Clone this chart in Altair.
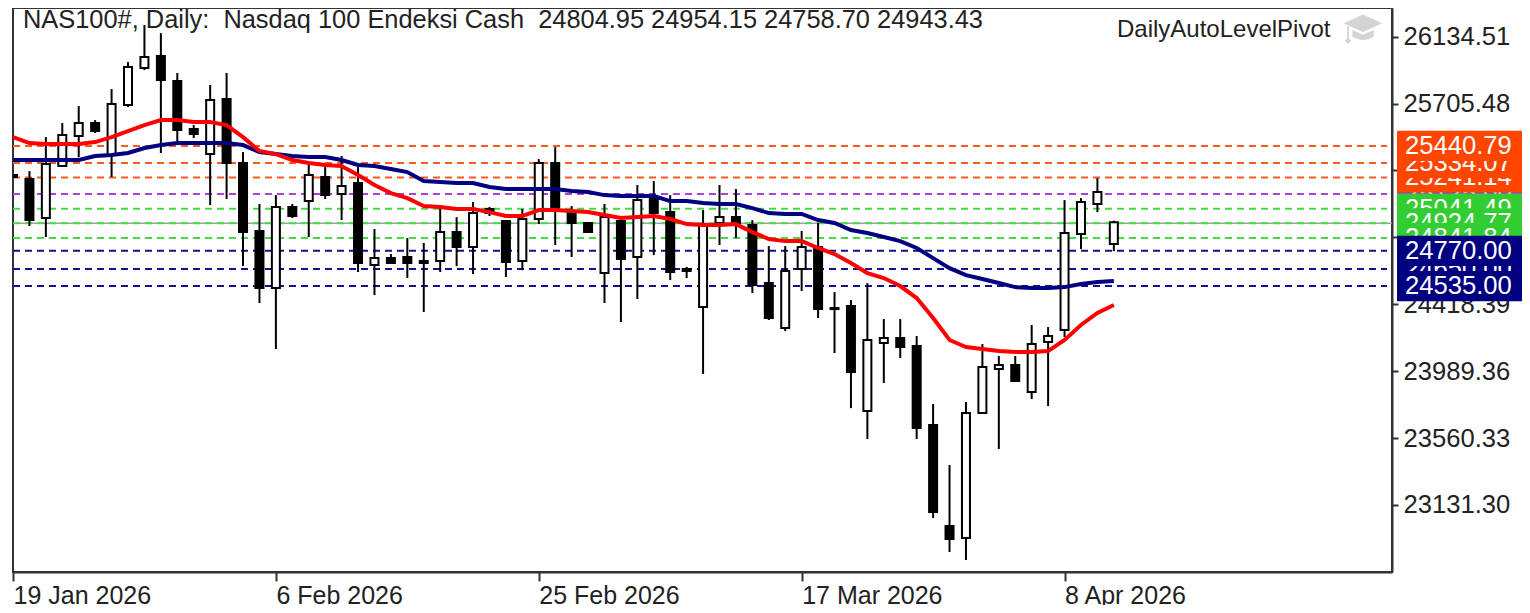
import altair as alt
import pandas as pd

highs = [25253,25272,25490,25580,25689,25599,25798,25971,26209,26157,25901,25567,25824,25901,25394,25061,25118,25061,25311,25311,25369,25298,24900,24740,24843,24811,25042,24977,25074,25042,24958,25029,25349,25426,25048,24939,25061,24971,25183,25208,25118,24657,25022,25183,25157,24958,24791,24791,24888,24939,24496,24445,24554,24323,24323,24214,23778,23387,23791,24163,24086,24086,24285,24272,25086,25099,25227,24954.15]
lows = [25234,24920,24849,25304,25362,25516,25234,25683,25920,25388,25452,25484,25054,25093,24663,24426,24131,24971,24849,25093,24958,24625,24477,24682,24586,24368,24625,24663,24612,24984,24593,24637,24932,24798,24721,24875,24426,24304,24452,24734,24573,24586,23971,24798,24843,24490,24317,24246,24503,24330,24105,23752,23554,23913,24073,23554,23047,22829,22778,23720,23490,23926,23810,23765,24208,24772,25009,24758.70]
opens = [25247,25221,24971,25304,25497,25580,25375,25696,25933,26010,25850,25542,25381,25734,25324,24888,24522,25042,25080,25234,25125,25195,24670,24714,24721,24695,24695,24881,24785,25029,24952,24695,24965,25324,25003,24939,24618,24952,24721,25093,25009,24644,24400,24939,24977,24926,24554,24266,24644,24785,24394,24407,23733,24169,24201,24150,23643,22996,22919,23720,24003,24028,23855,24176,24253,24868,25061,24804.95]
closes = [25234,24958,25317,25503,25580,25529,25702,25939,26003,25856,25535,25510,25728,25324,24881,24522,25042,24984,25247,25118,25176,24682,24714,24682,24682,24682,24881,24785,25003,25003,24689,24965,25324,25035,24939,24881,24977,24708,25086,25003,24625,24631,24926,24977,24939,24541,24330,24631,24785,24387,24387,23983,24189,24201,24144,23624,23086,22912,23720,24015,24028,23926,24163,24214,24875,25074,25138,24943.43]

ma_red = [25490,25452,25446,25446,25446,25458,25490,25529,25567,25599,25599,25587,25587,25567,25490,25401,25381,25343,25324,25311,25304,25247,25183,25131,25099,25048,25042,25029,25029,25009,24984,24984,25022,25022,25016,25009,24990,24971,24977,24984,24965,24932,24926,24926,24932,24881,24836,24823,24823,24779,24740,24682,24618,24586,24535,24458,24330,24189,24144,24131,24118,24112,24112,24118,24189,24285,24362,24413]
ma_blue = [25343,25343,25343,25343,25343,25369,25375,25388,25420,25439,25452,25452,25452,25452,25439,25394,25381,25369,25362,25362,25343,25311,25304,25285,25266,25208,25202,25195,25195,25170,25157,25157,25157,25157,25144,25138,25118,25112,25112,25112,25080,25080,25067,25061,25061,25035,25003,24997,24997,24958,24939,24894,24875,24849,24823,24779,24714,24650,24605,24580,24554,24528,24522,24522,24528,24548,24561,24567]

level_prices = [25433,25324,25231,25125,25031,24937,24843,24761,24644,24535]
level_labels = ["25440.79","25334.07","25241.14","25125.00","25041.49","24924.77","24841.84","24770.00","24650.00","24535.00"]
level_colors = ["#FF4500","#FF4500","#FF4500","#9932CC","#32CD32","#32CD32","#32CD32","#000080","#000080","#000080"]
line_colors = ["#FF5A1E","#FF5A1E","#FF5A1E","#A844DC","#44DC44","#44DC44","#44DC44","#101090","#101090","#101090"]
tag_order = [3,4,5,6,2,1,0,8,7,9]

current_price = 24937
y_ticks = [26134.51,25705.48,25276.45,24847.42,24418.39,23989.36,23560.33,23131.30]
x_ticks = [0,16,32,48,64]
x_labels = ["19 Jan 2026","6 Feb 2026","25 Feb 2026","17 Mar 2026","8 Apr 2026"]
heading = "NAS100#, Daily:\u00a0\u00a0Nasdaq 100 Endeksi Cash\u00a0\u00a024804.95 24954.15 24758.70 24943.43"
indicator = "DailyAutoLevelPivot"

FONT = "Liberation Sans"
idx = list(range(len(highs)))
df = pd.DataFrame(dict(i=idx, h=highs, l=lows, o=opens, c=closes, red=ma_red, blue=ma_blue))
df["top"] = df[["o","c"]].max(axis=1)
df["bot"] = df[["o","c"]].min(axis=1)
df["kind"] = ["bull" if c >= o else "bear" for o, c in zip(opens, closes)]
lv = pd.DataFrame(dict(p=level_prices, t=level_labels, col=line_colors))

xs = alt.Scale(domain=[0, 83.93], nice=False, zero=False, padding=0)
ys = alt.Scale(domain=[22701, 26318], nice=False, zero=False, padding=0)
label_js = "[" + ",".join(f"'{s}'" for s in x_labels) + "]"
AXC = "#333333"
x_axis = alt.Axis(values=x_ticks, title=None, grid=False, orient="bottom", labelExpr=f"{label_js}[datum.value/16]",
                  labelAlign="left", labelFont=FONT, labelFontSize=25, labelColor="#222222", labelPadding=2,
                  tickSize=9, tickWidth=2, tickColor=AXC, domainColor=AXC, domainWidth=2, labelFlush=False, labelOverlap=False)
y_axis = alt.Axis(values=y_ticks, title=None, grid=False, orient="right", format=".2f",
                  labelFont=FONT, labelFontSize=25.6, labelColor="#222222", labelPadding=5,
                  tickSize=6, tickWidth=2, tickColor=AXC, domainColor=AXC, domainWidth=2, labelOverlap=False, labelBound=False)

def X(f):
    return alt.X(f, scale=xs, axis=x_axis)
def Y(f):
    return alt.Y(f, scale=ys, axis=y_axis)

price_line = alt.Chart(pd.DataFrame({"p": [current_price]})).mark_rule(strokeWidth=1.5, color="#A0A0B0").encode(
    x=alt.value(0), x2=alt.value(1379), y=Y("p:Q"))
levels = alt.Chart(lv).mark_rule(strokeWidth=2, strokeDash=[7, 5]).encode(
    x=alt.value(0), x2=alt.value(1374), y=Y("p:Q"), color=alt.Color("col:N", scale=None))

wicks = alt.Chart(df).mark_rule(color="#000000", strokeWidth=2, clip=True).encode(
    x=X("i:Q"), y=Y("l:Q"), y2="h:Q")
bodies = alt.Chart(df).mark_bar(size=8, stroke="#000000", strokeWidth=2, orient="vertical", clip=True).encode(
    x=X("i:Q"), y=Y("bot:Q"), y2="top:Q",
    fill=alt.Fill("kind:N", scale=alt.Scale(domain=["bull","bear"], range=["#FFFFFF","#000000"]), legend=None))
line_blue = alt.Chart(df).mark_line(color="#000080", strokeWidth=4).encode(x=X("i:Q"), y=Y("blue:Q"))
line_red = alt.Chart(df).mark_line(color="#FF0000", strokeWidth=4).encode(x=X("i:Q"), y=Y("red:Q"))

head = alt.Chart(pd.DataFrame({"t": [heading]})).mark_text(align="left", baseline="middle", font=FONT, fontSize=25.4, color="#222222").encode(
    x=alt.value(10), y=alt.value(12), text="t:N")
ind = alt.Chart(pd.DataFrame({"t": [indicator]})).mark_text(align="left", baseline="middle", font=FONT, fontSize=24, color="#222222").encode(
    x=alt.value(1104), y=alt.value(22), text="t:N")
CAP = ("M-1,-0.3L0,-0.75L1,-0.3L0,0.15Z"
       "M-0.55,0.05L0,0.3L0.55,0.05L0.55,0.4Q0,0.75 -0.55,0.4Z"
       "M-0.82,-0.15L-0.72,-0.15L-0.72,0.5L-0.6,0.6L-0.77,0.78L-0.94,0.6L-0.82,0.5Z")
cap = alt.Chart(pd.DataFrame({"a": [0]})).mark_point(shape=CAP, filled=True, size=1500, color="#D4D4D4", opacity=1).encode(
    x=alt.value(1350), y=alt.value(21))

tags = []
for k in tag_order:
    row = lv.iloc[[k]].copy()
    row["y0"] = row["p"] + 97
    row["y1"] = row["p"] - 97
    rect = alt.Chart(row).mark_rect(color=level_colors[k]).encode(
        x=alt.value(1384), x2=alt.value(1509), y=Y("y0:Q"), y2="y1:Q")
    txt = alt.Chart(row).mark_text(align="left", baseline="middle", font=FONT, fontSize=25.6, color="#FFFFFF").encode(
        x=alt.value(1392), y=Y("p:Q"), text="t:N")
    tags += [rect, txt]

chart = alt.layer(price_line, levels, wicks, bodies, line_blue, line_red, head, ind, cap, *tags).resolve_scale(
    x="shared", y="shared"
).properties(
    width=1379, height=564, background="#FFFFFF",
    padding={"left": 5, "top": 0, "right": 130, "bottom": 33},
    autosize=alt.AutoSizeParams(type="none")
).configure_view(stroke=AXC, strokeWidth=2)

chart.save("out.html", embed_options={"renderer": "svg", "actions": False})
